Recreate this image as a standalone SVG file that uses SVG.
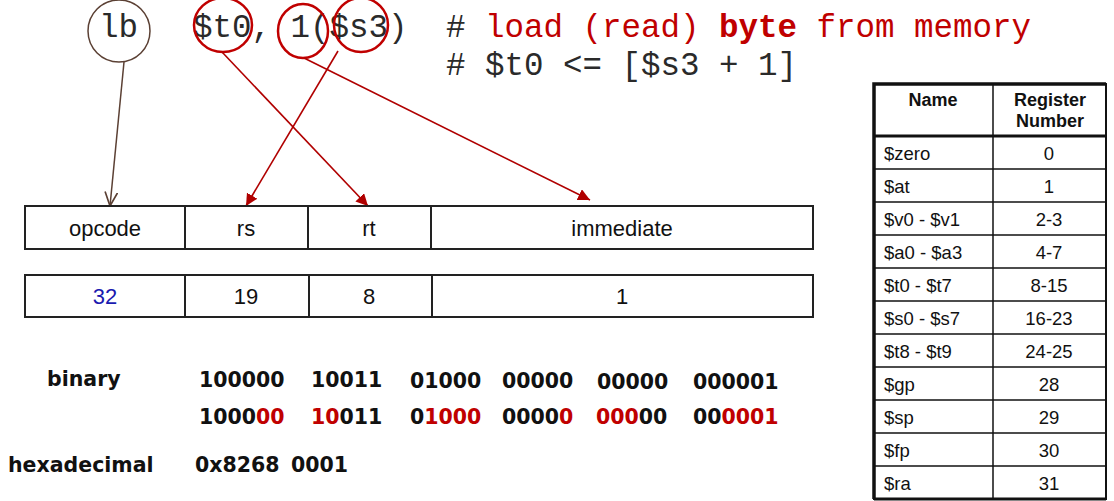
<svg xmlns="http://www.w3.org/2000/svg" width="1114" height="501" viewBox="0 0 1114 501">
<defs>
<style>
.mono{font-family:"Liberation Mono","Courier New",monospace;font-size:32.5px;fill:#2a2a2a}
.red{fill:#c00000}
.box{fill:#fff;stroke:#222;stroke-width:2}
.fld{font-family:"Liberation Sans",Arial,sans-serif;font-size:22px;fill:#111;text-anchor:middle}
.bin{font-family:"DejaVu Sans",Verdana,sans-serif;font-weight:bold;font-size:20.5px;fill:#111}
.th{font-family:"Liberation Sans",Arial,sans-serif;font-weight:bold;font-size:18px;fill:#111;text-anchor:middle}
.tn{font-family:"Liberation Sans",Arial,sans-serif;font-size:18.5px;fill:#111}
.tc{text-anchor:middle}
.circR{fill:none;stroke:#c00000;stroke-width:2.5}
.lnR{stroke:#b00000;stroke-width:1.6;fill:none}
.grid{stroke:#111;stroke-width:1.5}
</style>
<marker id="ar" viewBox="0 0 10 10" refX="10" refY="5" markerWidth="12" markerHeight="12" markerUnits="userSpaceOnUse" orient="auto">
<path d="M0,0 L10,5 L0,10 z" fill="#b00000"/>
</marker>
<marker id="ab" viewBox="0 0 10 10" refX="10" refY="5" markerWidth="14" markerHeight="14" markerUnits="userSpaceOnUse" orient="auto">
<path d="M0,0.5 L10,5 L0,9.5" fill="none" stroke="#5b4034" stroke-width="1.2"/>
</marker>
</defs>
<rect width="1114" height="501" fill="#fff"/>

<g id="instruction">
<text class="mono" x="99" y="37">lb</text>
<text class="mono" x="193" y="37">$t0, 1($s3)</text>
<text class="mono" x="446" y="37"># <tspan class="red">load (read) </tspan><tspan class="red" font-weight="bold">byte</tspan><tspan class="red"> from memory</tspan></text>
<text class="mono" x="446" y="75"># $t0 &lt;= [$s3 + 1]</text>
<circle id="c-lb" cx="119" cy="31" r="31" fill="none" stroke="#5b4034" stroke-width="1.5"/>
<ellipse id="c-t0" class="circR" cx="223" cy="25" rx="29" ry="27"/>
<ellipse id="c-1" class="circR" cx="303" cy="31" rx="25" ry="27"/>
<ellipse id="c-s3" class="circR" cx="361" cy="25" rx="27" ry="27"/>
</g>

<g id="connectors">
<line x1="124" y1="62" x2="110" y2="206" stroke="#5b4034" stroke-width="1.5" marker-end="url(#ab)"/>
<line class="lnR" x1="222" y1="52" x2="368" y2="206" marker-end="url(#ar)"/>
<line class="lnR" x1="338" y1="51" x2="246" y2="206" marker-end="url(#ar)"/>
<line class="lnR" x1="304" y1="58" x2="590" y2="200" marker-end="url(#ar)"/>
</g>

<g id="format-row">
<rect class="box" x="25" y="206" width="160" height="43"/>
<rect class="box" x="185" y="206" width="123" height="43"/>
<rect class="box" x="308" y="206" width="123" height="43"/>
<rect class="box" x="431" y="206" width="382" height="43"/>
<text class="fld" x="105" y="236">opcode</text>
<text class="fld" x="246" y="236">rs</text>
<text class="fld" x="369" y="236">rt</text>
<text class="fld" x="622" y="236">immediate</text>
</g>

<g id="value-row">
<rect class="box" x="25" y="275" width="160" height="42"/>
<rect class="box" x="185" y="275" width="124" height="42"/>
<rect class="box" x="309" y="275" width="123" height="42"/>
<rect class="box" x="432" y="275" width="381" height="42"/>
<text class="fld" x="105" y="304" style="fill:#1a1ab0">32</text>
<text class="fld" x="246" y="304">19</text>
<text class="fld" x="369" y="304">8</text>
<text class="fld" x="622" y="304">1</text>
</g>

<g id="binary">
<text class="bin" x="47" y="386">binary</text>
<text class="bin" x="199" y="387">100000</text>
<text class="bin" x="311" y="387">10011</text>
<text class="bin" x="410" y="388">01000</text>
<text class="bin" x="502" y="388">00000</text>
<text class="bin" x="597" y="389">00000</text>
<text class="bin" x="693" y="389">000001</text>
<text class="bin" x="199" y="424">1000<tspan class="red">00</tspan></text>
<text class="bin" x="311" y="424"><tspan class="red">10</tspan>011</text>
<text class="bin" x="410" y="424">0<tspan class="red">1000</tspan></text>
<text class="bin" x="502" y="424">0000<tspan class="red">0</tspan></text>
<text class="bin" x="596" y="424"><tspan class="red">000</tspan>00</text>
<text class="bin" x="693" y="424">00<tspan class="red">0001</tspan></text>
</g>

<g id="hex">
<text class="bin" x="8" y="472">hexadecimal</text>
<text class="bin" x="195" y="472">0x8268 <tspan x="291">0001</tspan></text>
</g>

<g id="register-table">
<rect x="874" y="84" width="232" height="415" fill="#fff" stroke="none"/>
<g class="grid">
<line x1="874" y1="169" x2="1106" y2="169"/>
<line x1="874" y1="202" x2="1106" y2="202"/>
<line x1="874" y1="235" x2="1106" y2="235"/>
<line x1="874" y1="268" x2="1106" y2="268"/>
<line x1="874" y1="301" x2="1106" y2="301"/>
<line x1="874" y1="334" x2="1106" y2="334"/>
<line x1="874" y1="367" x2="1106" y2="367"/>
<line x1="874" y1="400" x2="1106" y2="400"/>
<line x1="874" y1="433" x2="1106" y2="433"/>
<line x1="874" y1="466" x2="1106" y2="466"/>
<line x1="993" y1="84" x2="993" y2="499"/>
</g>
<line x1="874" y1="136" x2="1106" y2="136" stroke="#111" stroke-width="3"/>
<path d="M874,84 H1106 V499 H874 Z" fill="none" stroke="#111" stroke-width="2"/>
<path d="M874,499 V84 H1106" fill="none" stroke="#111" stroke-width="3.5"/>
<line x1="874" y1="499" x2="1106" y2="499" stroke="#111" stroke-width="3"/>
<text class="th" x="933" y="106">Name</text>
<text class="th" x="1050" y="106">Register</text>
<text class="th" x="1050" y="127">Number</text>
<text class="tn" x="884" y="160">$zero</text><text class="tn tc" x="1049" y="160">0</text>
<text class="tn" x="884" y="193">$at</text><text class="tn tc" x="1049" y="193">1</text>
<text class="tn" x="884" y="226">$v0 - $v1</text><text class="tn tc" x="1049" y="226">2-3</text>
<text class="tn" x="884" y="259">$a0 - $a3</text><text class="tn tc" x="1049" y="259">4-7</text>
<text class="tn" x="884" y="292">$t0 - $t7</text><text class="tn tc" x="1049" y="292">8-15</text>
<text class="tn" x="884" y="325">$s0 - $s7</text><text class="tn tc" x="1049" y="325">16-23</text>
<text class="tn" x="884" y="358">$t8 - $t9</text><text class="tn tc" x="1049" y="358">24-25</text>
<text class="tn" x="884" y="391">$gp</text><text class="tn tc" x="1049" y="391">28</text>
<text class="tn" x="884" y="424">$sp</text><text class="tn tc" x="1049" y="424">29</text>
<text class="tn" x="884" y="457">$fp</text><text class="tn tc" x="1049" y="457">30</text>
<text class="tn" x="884" y="490">$ra</text><text class="tn tc" x="1049" y="490">31</text>
</g>
</svg>
